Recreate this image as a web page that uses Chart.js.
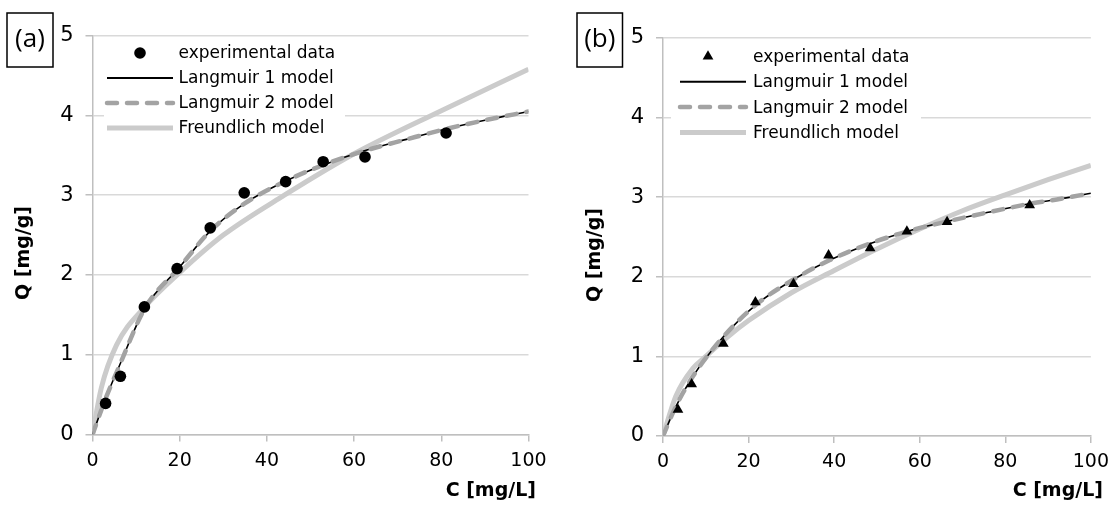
<!DOCTYPE html>
<html>
<head>
<meta charset="utf-8">
<script src="https://cdn.jsdelivr.net/npm/chart.js@4.4.0/dist/chart.umd.min.js"></script>
<style>
  body { margin: 0; background: #fff; }
  .panel { position: absolute; top: 0; }
</style>
</head>
<body>
<div class="panel" style="left:0"><canvas id="chartA" width="560" height="507"></canvas></div>
<div class="panel" style="left:560px"><canvas id="chartB" width="557" height="507"></canvas></div>
<script>
// axis ticks (both panels)
const xTicks = [0, 20, 40, 60, 80, 100];
const yTicks = [0, 1, 2, 3, 4, 5];
const xTitle = "C [mg/L]";
const yTitle = "Q [mg/g]";
const seriesNames = ["experimental data", "Langmuir 1 model", "Langmuir 2 model", "Freundlich model"];

// (a) experimental points
const expC_A = [3.0, 6.4, 11.9, 19.4, 27.0, 34.8, 44.3, 52.9, 62.5, 81.1];
const expQ_A = [0.39, 0.73, 1.60, 2.08, 2.59, 3.03, 3.17, 3.42, 3.48, 3.78];
// (a) model curves
const langC_A = [0, 3, 6, 12, 20, 27, 35, 44, 53, 62, 72, 81, 90, 100];
const lang1Q_A = [0, 0.45, 0.84, 1.58, 2.10, 2.55, 2.90, 3.17, 3.38, 3.55, 3.70, 3.83, 3.94, 4.05];
const lang2Q_A = [0, 0.45, 0.84, 1.58, 2.10, 2.55, 2.90, 3.17, 3.38, 3.55, 3.70, 3.83, 3.94, 4.05];
const freC_A = [0, 2, 5.5, 12, 20, 30, 44, 60, 80, 100];
const freQ_A = [0, 0.58, 1.12, 1.60, 2.03, 2.50, 3.00, 3.52, 4.06, 4.58];

// (b) experimental points
const expC_B = [3.5, 6.7, 14.1, 21.6, 30.5, 38.7, 48.4, 57.0, 66.4, 85.7];
const expQ_B = [0.33, 0.65, 1.16, 1.68, 1.91, 2.27, 2.36, 2.57, 2.69, 2.90];
// (b) model curves
const langC_B = [0, 3, 7, 14, 22, 30, 39, 48, 57, 66, 76, 86, 93, 100];
const lang1Q_B = [0, 0.37, 0.75, 1.24, 1.66, 1.95, 2.21, 2.41, 2.57, 2.69, 2.81, 2.92, 2.98, 3.05];
const lang2Q_B = [0, 0.37, 0.75, 1.24, 1.66, 1.95, 2.21, 2.41, 2.57, 2.69, 2.81, 2.92, 2.98, 3.05];
const freC_B = [0, 3, 7, 10, 15, 20, 30, 40, 50, 60, 70, 80, 90, 100];
const freQ_B = [0, 0.50, 0.85, 1.00, 1.24, 1.45, 1.80, 2.08, 2.35, 2.60, 2.83, 3.03, 3.22, 3.40];

function toXY(cs, qs) {
  return cs.map((c, i) => ({ x: c, y: qs[i] }));
}

function drawMarker(ctx, style, x, y, r) {
  ctx.fillStyle = "#000";
  ctx.beginPath();
  if (style === "triangle") {
    for (let k = 0; k < 3; k++) {
      const a = -Math.PI / 2 + k * 2 * Math.PI / 3;
      const px = x + Math.cos(a) * r, py = y + Math.sin(a) * r;
      if (k === 0) ctx.moveTo(px, py); else ctx.lineTo(px, py);
    }
    ctx.closePath();
  } else {
    ctx.arc(x, y, r, 0, Math.PI * 2);
  }
  ctx.fill();
}

// legend inside the plot, panel tag and axis titles
const panelDecor = {
  id: "panelDecor",
  afterDatasetsDraw(chart, args, o) {
    const ctx = chart.ctx;
    const lg = o.legend;
    ctx.save();
    ctx.fillStyle = "#fff";
    ctx.fillRect(lg.x, lg.y, lg.w, lg.h);
    chart.data.datasets.forEach((ds, i) => {
      const y = lg.firstRow + i * lg.rowGap;
      if (ds.showLine === false) {
        drawMarker(ctx, ds.pointStyle, lg.markerX, y, ds.pointRadius);
      } else {
        ctx.beginPath();
        ctx.strokeStyle = ds.borderColor;
        ctx.lineWidth = Math.max(ds.borderWidth, 2);
        ctx.lineCap = ds.borderCapStyle || "butt";
        ctx.setLineDash(ds.borderDash || []);
        ctx.moveTo(lg.sx0, y);
        ctx.lineTo(lg.sx1, y);
        ctx.stroke();
        ctx.setLineDash([]);
      }
      ctx.fillStyle = "#000";
      ctx.font = '17px "DejaVu Sans"';
      ctx.textAlign = "left";
      ctx.textBaseline = "middle";
      ctx.fillText(ds.label, lg.tx, y + 1);
    });
    ctx.restore();
  },
  afterDraw(chart, args, o) {
    const ctx = chart.ctx;
    ctx.save();
    // (a) / (b) box
    ctx.strokeStyle = "#000";
    ctx.lineWidth = 1.5;
    ctx.strokeRect(o.tag.x, o.tag.y, o.tag.w, o.tag.h);
    ctx.fillStyle = "#000";
    ctx.font = '26px "Open Sans"';
    ctx.textAlign = "center";
    ctx.textBaseline = "middle";
    ctx.fillText(o.tag.text, o.tag.x + o.tag.w / 2, o.tag.y + o.tag.h / 2);
    // axis titles
    ctx.font = 'bold 19px "DejaVu Sans"';
    ctx.textAlign = "right";
    ctx.fillText(xTitle, o.xTitle.x, o.xTitle.y);
    ctx.translate(o.yTitle.x, o.yTitle.y);
    ctx.rotate(-Math.PI / 2);
    ctx.textAlign = "center";
    ctx.fillText(yTitle, 0, 0);
    ctx.restore();
  }
};

function makePanel(id, d, p) {
  return new Chart(document.getElementById(id), {
    type: "scatter",
    data: {
      datasets: [
        {
          label: seriesNames[0],
          data: toXY(d.expC, d.expQ),
          showLine: false,
          pointStyle: d.marker,
          pointRadius: d.markerSize,
          pointHoverRadius: d.markerSize,
          pointBackgroundColor: "#000",
          pointBorderWidth: 0,
          order: 0
        },
        {
          label: seriesNames[1],
          data: toXY(d.langC, d.lang1Q),
          showLine: true,
          pointRadius: 0,
          borderColor: "#000",
          borderWidth: 1.6,
          cubicInterpolationMode: "monotone",
          order: 2
        },
        {
          label: seriesNames[2],
          data: toXY(d.langC, d.lang2Q),
          showLine: true,
          pointRadius: 0,
          borderColor: "#a3a3a3",
          borderWidth: 4.5,
          borderDash: [10, 10],
          borderCapStyle: "round",
          cubicInterpolationMode: "monotone",
          order: 1
        },
        {
          label: seriesNames[3],
          data: toXY(d.freC, d.freQ),
          showLine: true,
          pointRadius: 0,
          borderColor: "#cbcbcb",
          borderWidth: 5,
          cubicInterpolationMode: "monotone",
          order: 3
        }
      ]
    },
    options: {
      responsive: false,
      animation: false,
      layout: { padding: p.padding },
      plugins: {
        legend: { display: false },
        tooltip: { enabled: false },
        panelDecor: p.decor
      },
      scales: {
        x: {
          type: "linear",
          min: 0,
          max: 100,
          afterBuildTicks: (s) => { s.ticks = xTicks.map((v) => ({ value: v })); },
          afterFit: (s) => { s.height = p.xAxisHeight; },
          grid: { drawOnChartArea: false, color: "#bfbfbf", tickLength: 7, lineWidth: 1.5 },
          border: { color: "#bfbfbf", width: 1.5 },
          ticks: { color: "#000", font: { family: "DejaVu Sans", size: 19 }, padding: 8, maxRotation: 0 }
        },
        y: {
          type: "linear",
          min: 0,
          max: 5,
          afterBuildTicks: (s) => { s.ticks = yTicks.map((v) => ({ value: v })); },
          afterFit: (s) => { s.width = p.yAxisWidth; },
          grid: { color: "#d9d9d9", tickColor: "#bfbfbf", tickLength: 7, lineWidth: 1.5 },
          border: { color: "#bfbfbf", width: 1.5 },
          ticks: { color: "#000", font: { family: "DejaVu Sans", size: 21 }, padding: 12 }
        }
      }
    },
    plugins: [panelDecor]
  });
}

makePanel("chartA",
  { expC: expC_A, expQ: expQ_A, langC: langC_A, lang1Q: lang1Q_A, lang2Q: lang2Q_A,
    freC: freC_A, freQ: freQ_A, marker: "circle", markerSize: 5.8 },
  {
    padding: { left: 0, right: 31.5, top: 35.7, bottom: 0 },
    yAxisWidth: 92.5,
    xAxisHeight: 72.5,
    decor: {
      legend: { x: 104, y: 40, w: 241, h: 103, sx0: 107, sx1: 173, markerX: 140, tx: 178.6, firstRow: 53, rowGap: 25 },
      tag: { x: 7, y: 13, w: 46, h: 54, text: "(a)" },
      xTitle: { x: 536, y: 491 },
      yTitle: { x: 24, y: 253 }
    }
  });

makePanel("chartB",
  { expC: expC_B, expQ: expQ_B, langC: langC_B, lang1Q: lang1Q_B, lang2Q: lang2Q_B,
    freC: freC_B, freQ: freQ_B, marker: "triangle", markerSize: 6.2 },
  {
    padding: { left: 0, right: 20, top: 38, bottom: 0 },
    yAxisWidth: 103,
    xAxisHeight: 71,
    decor: {
      legend: { x: 111, y: 42, w: 250, h: 104, sx0: 120, sx1: 186, markerX: 148, tx: 193, firstRow: 56.5, rowGap: 25.3 },
      tag: { x: 17, y: 13, w: 45.5, h: 54, text: "(b)" },
      xTitle: { x: 543, y: 491 },
      yTitle: { x: 35, y: 255 }
    }
  });
</script>
</body>
</html>
